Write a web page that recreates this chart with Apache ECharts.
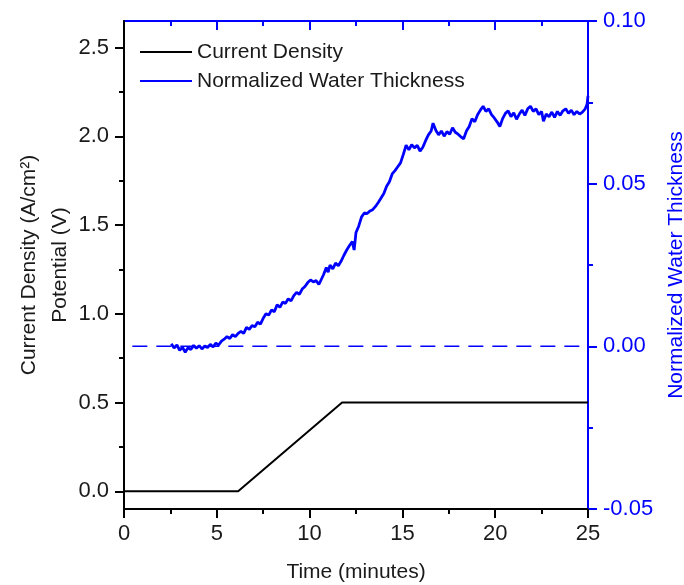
<!DOCTYPE html>
<html>
<head>
<meta charset="utf-8">
<script src="https://cdn.jsdelivr.net/npm/echarts@6/dist/echarts.min.js"></script>
<style>
  html, body { margin: 0; padding: 0; background: #fff; }
  #main { width: 684px; height: 585px; }
</style>
</head>
<body>
<div id="main"></div>
<script>
// current density (A/cm2) vs time (min)
var currentDensity = [[0, 0], [6.15, 0], [11.75, 0.5], [25, 0.5]];

// normalized water thickness vs time (min)
var waterThickness = [
  [2.55, 0.0008], [2.7, -0.0005], [2.85, 0.0004], [3.0, -0.0012], [3.15, -0.0003], [3.3, -0.0018],
  [3.45, -0.0004], [3.6, -0.0010], [3.75, 0.0003], [3.9, -0.0006], [4.05, 0.0002], [4.2, -0.0008],
  [4.35, 0.0001], [4.5, -0.0004], [4.65, 0.0006], [4.8, -0.0002], [4.95, 0.0010], [5.1, 0.0004],
  [5.25, 0.0016], [5.4, 0.0022], [5.55, 0.0030], [5.7, 0.0024], [5.85, 0.0036], [6.0, 0.0030],
  [6.15, 0.0040], [6.3, 0.0046], [6.45, 0.0040], [6.6, 0.0058], [6.75, 0.0052], [6.9, 0.0064],
  [7.05, 0.0060], [7.2, 0.0074], [7.35, 0.0068], [7.5, 0.0086], [7.65, 0.0100], [7.8, 0.0096],
  [7.95, 0.0112], [8.1, 0.0106], [8.25, 0.0128], [8.4, 0.0120], [8.55, 0.0136], [8.7, 0.0132],
  [8.85, 0.0146], [9.0, 0.0140], [9.15, 0.0156], [9.3, 0.0166], [9.45, 0.0160], [9.6, 0.0176],
  [9.75, 0.0184], [9.9, 0.0196], [10.05, 0.0204], [10.2, 0.0198], [10.35, 0.0202], [10.5, 0.0190],
  [10.6, 0.0186], [10.75, 0.0220], [10.9, 0.0242], [11.0, 0.0228], [11.1, 0.0250], [11.25, 0.0238],
  [11.4, 0.0256], [11.55, 0.0248], [11.7, 0.0262], [11.85, 0.0280], [12.0, 0.0296], [12.15, 0.0310],
  [12.3, 0.0322], [12.4, 0.0296], [12.5, 0.0350], [12.65, 0.0370], [12.8, 0.0398], [12.95, 0.0410],
  [13.1, 0.0408], [13.25, 0.0416], [13.4, 0.0420], [13.55, 0.0430], [13.7, 0.0442], [13.85, 0.0456],
  [14.0, 0.0470], [14.15, 0.0492], [14.3, 0.0506], [14.45, 0.0530], [14.6, 0.0540], [14.75, 0.0552],
  [14.9, 0.0564], [15.05, 0.0590], [15.2, 0.0618], [15.35, 0.0604], [15.5, 0.0620], [15.65, 0.0610],
  [15.8, 0.0618], [15.95, 0.0600], [16.1, 0.0612], [16.25, 0.0632], [16.4, 0.0650], [16.55, 0.0662],
  [16.65, 0.0686], [16.8, 0.0664], [16.95, 0.0650], [17.1, 0.0662], [17.25, 0.0646], [17.4, 0.0660],
  [17.55, 0.0652], [17.7, 0.0672], [17.85, 0.0658], [18.0, 0.0652], [18.15, 0.0644], [18.3, 0.0638],
  [18.45, 0.0662], [18.6, 0.0676], [18.75, 0.0700], [18.9, 0.0690], [19.05, 0.0712], [19.2, 0.0726],
  [19.35, 0.0738], [19.5, 0.0722], [19.65, 0.0730], [19.8, 0.0712], [19.95, 0.0702], [20.1, 0.0690],
  [20.25, 0.0676], [20.4, 0.0700], [20.55, 0.0716], [20.7, 0.0724], [20.85, 0.0706], [21.0, 0.0718],
  [21.15, 0.0698], [21.3, 0.0714], [21.45, 0.0726], [21.6, 0.0710], [21.75, 0.0730], [21.9, 0.0738],
  [22.05, 0.0722], [22.2, 0.0730], [22.35, 0.0712], [22.5, 0.0722], [22.6, 0.0692], [22.75, 0.0714],
  [22.9, 0.0706], [23.05, 0.0720], [23.2, 0.0704], [23.35, 0.0722], [23.5, 0.0710], [23.65, 0.0724],
  [23.8, 0.0730], [23.95, 0.0716], [24.1, 0.0726], [24.25, 0.0712], [24.4, 0.0722], [24.55, 0.0714],
  [24.7, 0.0720], [24.85, 0.0730], [24.95, 0.0744], [25.0, 0.0770]
];

// dashed zero reference for the thickness
var zeroLine = [[0.45, 0], [25, 0]];

var leftTicks = [0, 0.5, 1.0, 1.5, 2.0, 2.5];
var leftMinorTicks = [0.25, 0.75, 1.25, 1.75, 2.25];

var BLUE = '#0000ff';
var INK = '#1a1a1a';
var FONT = 'Liberation Sans, Arial, sans-serif';

var myChart = echarts.init(document.getElementById('main'));
myChart.setOption({
  backgroundColor: '#fff',
  animation: false,
  textStyle: { fontFamily: FONT },
  grid: { left: 124, right: 96, top: 21, bottom: 76, containLabel: false, outerBoundsMode: 'none' },
  legend: {
    orient: 'vertical',
    left: 135,
    top: 36,
    icon: 'rect',
    itemWidth: 52,
    itemHeight: 2,
    itemGap: 7,
    textStyle: { fontSize: 21, color: INK, fontFamily: FONT, lineHeight: 22 },
    data: ['Current Density', 'Normalized Water Thickness']
  },
  xAxis: [
    {
      type: 'value',
      min: 0, max: 25, interval: 5,
      name: 'Time (minutes)',
      nameLocation: 'middle',
      nameGap: 53,
      nameTextStyle: { fontSize: 21, color: INK },
      axisLine: { onZero: false, lineStyle: { color: '#000', width: 2 } },
      axisTick: { length: 9, lineStyle: { color: '#000', width: 2 } },
      minorTick: { show: true, splitNumber: 2, length: 5, lineStyle: { color: '#000', width: 2 } },
      axisLabel: { fontSize: 22, color: INK, margin: 14 },
      splitLine: { show: false }
    },
    {
      type: 'value',
      position: 'top',
      min: 0, max: 25, interval: 5,
      axisLine: { onZero: false, lineStyle: { color: BLUE, width: 2 } },
      axisTick: { inside: true, length: 9, lineStyle: { color: BLUE, width: 2 } },
      minorTick: { show: true, splitNumber: 2, length: 5, lineStyle: { color: BLUE, width: 2 } },
      axisLabel: { show: false },
      splitLine: { show: false }
    }
  ],
  yAxis: [
    {
      type: 'value',
      position: 'left',
      min: -0.1, max: 2.65,
      name: 'Current Density (A/cm\u00b2)\nPotential (V)',
      nameLocation: 'middle',
      nameRotate: 90,
      nameGap: 48,
      nameMoveOverlap: false,
      nameTextStyle: { fontSize: 21, color: INK, lineHeight: 31 },
      axisLine: { onZero: false, lineStyle: { color: '#000', width: 2 } },
      axisTick: { length: 9, customValues: leftTicks, lineStyle: { color: '#000', width: 2 } },
      axisLabel: {
        fontSize: 22, color: INK, margin: 15,
        customValues: leftTicks,
        formatter: function (v) { return v.toFixed(1); }
      },
      splitLine: { show: false },
      z: 3
    },
    {
      type: 'value',
      position: 'right',
      min: -0.05, max: 0.10, interval: 0.05,
      name: 'Normalized Water Thickness',
      nameLocation: 'middle',
      nameRotate: 90,
      nameGap: 78,
      nameTextStyle: { fontSize: 21, color: BLUE },
      axisLine: { onZero: false, lineStyle: { color: BLUE, width: 2 } },
      axisTick: { length: 9, lineStyle: { color: BLUE, width: 2 } },
      minorTick: { show: true, splitNumber: 2, length: 5, lineStyle: { color: BLUE, width: 2 } },
      axisLabel: {
        fontSize: 22, color: BLUE, margin: 15,
        formatter: function (v) { return v.toFixed(2); }
      },
      splitLine: { show: false }
    },
    {
      // minor ticks of the left axis
      type: 'value',
      position: 'left',
      min: -0.1, max: 2.65,
      axisLine: { show: false, onZero: false },
      axisTick: { length: 5, customValues: leftMinorTicks, lineStyle: { color: '#000', width: 2 } },
      axisLabel: { show: false },
      splitLine: { show: false }
    }
  ],
  series: [
    {
      name: 'Current Density',
      type: 'line',
      xAxisIndex: 0, yAxisIndex: 0,
      data: currentDensity,
      showSymbol: false,
      lineStyle: { color: '#000', width: 2 },
      itemStyle: { color: '#000' },
      z: 3
    },
    {
      name: 'Normalized Water Thickness',
      type: 'line',
      xAxisIndex: 0, yAxisIndex: 1,
      data: waterThickness,
      showSymbol: false,
      lineStyle: { color: BLUE, width: 2.8 },
      itemStyle: { color: BLUE },
      z: 4
    },
    {
      name: 'zero',
      type: 'line',
      xAxisIndex: 0, yAxisIndex: 1,
      data: zeroLine,
      showSymbol: false,
      silent: true,
      lineStyle: { color: BLUE, width: 1.5, type: [15, 9] },
      z: 2
    }
  ]
});
</script>
</body>
</html>
